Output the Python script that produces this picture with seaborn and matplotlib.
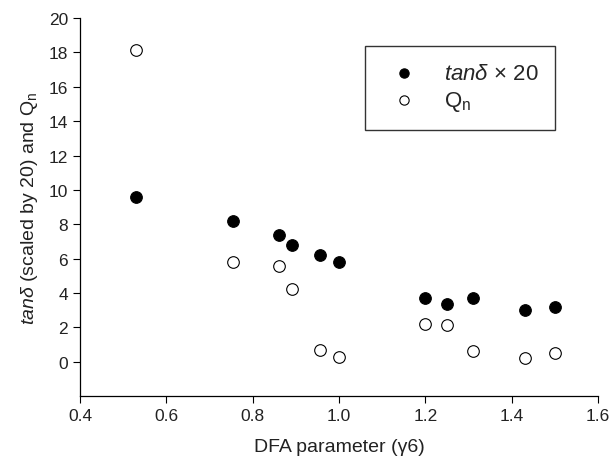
import numpy as np
import pandas as pd
import matplotlib
matplotlib.use('Agg')
import matplotlib.pyplot as plt
import seaborn as sns

# DFA parameter values
dfa = [0.53, 0.755, 0.86, 0.89, 0.955, 1.0, 1.2, 1.25, 1.31, 1.43, 1.50]
# tan delta x 20
tand20 = [9.6, 8.2, 7.4, 6.8, 6.2, 5.8, 3.7, 3.35, 3.7, 3.0, 3.2]
# Q_n
qn = [18.15, 5.8, 5.6, 4.25, 0.7, 0.3, 2.2, 2.15, 0.65, 0.2, 0.5]

sns.set_style('ticks')
plt.rcParams['font.family'] = ['Liberation Sans', 'DejaVu Sans']
plt.rcParams['mathtext.fontset'] = 'custom'
plt.rcParams['mathtext.rm'] = 'Liberation Sans'
plt.rcParams['mathtext.it'] = 'Liberation Sans:italic'

fig = plt.figure(figsize=(6.13, 4.64), dpi=100)
ax = fig.add_axes([0.1305, 0.144, 0.845, 0.815])

sns.scatterplot(x=dfa, y=tand20, ax=ax, color='black', edgecolor='black',
                s=70, linewidth=0.8, label=r'$\it{tan\delta}$ $\times$ 20', zorder=3)
sns.scatterplot(x=dfa, y=qn, ax=ax, color='white', edgecolor='black',
                s=70, linewidth=0.8, label=r'Q$_\mathrm{n}$', zorder=3)

ax.set_xlim(0.4, 1.6)
ax.set_ylim(-2, 20)
ax.set_xticks(np.arange(0.4, 1.61, 0.2))
ax.set_xticklabels(['0.4', '0.6', '0.8', '1.0', '1.2', '1.4', '1.6'])
ax.set_yticks(np.arange(0, 21, 2))
ax.tick_params(labelsize=12.5, length=5, width=0.8, color='black', labelcolor='#222222')
for s in ['left', 'bottom']:
    ax.spines[s].set_color('black')
    ax.spines[s].set_linewidth(0.9)
sns.despine(ax=ax)

ax.set_xlabel('DFA parameter (\u03b36)', fontsize=14, labelpad=11, color='#222222')
ax.set_ylabel(r'$\it{tan\delta}$ (scaled by 20) and Q$_\mathrm{n}$', fontsize=14,
              labelpad=6, color='#222222')

leg = ax.legend(loc='upper right', bbox_to_anchor=(0.917, 0.926), fontsize=16,
                frameon=True, fancybox=False, edgecolor='black', handletextpad=0.8,
                borderpad=0.75, labelspacing=0.25, markerscale=0.8, borderaxespad=0)
leg.get_frame().set_linewidth(1.0)

plt.savefig('out.png', dpi=100)
